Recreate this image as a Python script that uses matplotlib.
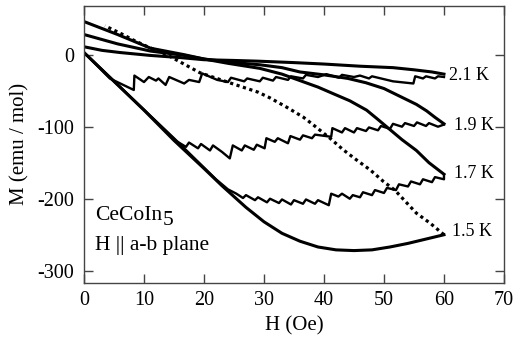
import matplotlib
matplotlib.use("Agg")
import matplotlib.pyplot as plt

plt.rcParams['font.family'] = ['Liberation Serif', 'DejaVu Serif']
plt.rcParams['axes.unicode_minus'] = False

# ---------------- data ----------------
# 1.5 K increasing-field branch (solid)
h15_up = [0, 5, 10, 15, 20, 23, 27, 30, 33, 36, 39, 42, 45, 48, 51, 54, 57, 60]
m15_up = [3, -37, -77, -119, -158, -182, -212, -232, -248, -259, -267, -271, -272, -271, -267, -262, -256, -250]
# 1.5 K decreasing-field branch (dotted)
h15_dn = [60, 57.7, 55.4, 51.8, 49.9, 47.7, 45.4, 43.2, 41, 38.3, 36.6, 33.8, 31, 29, 25, 19.3, 13.8, 10.6, 8.3, 6, 3.5]
m15_dn = [-250, -234, -220, -188, -176, -160, -146, -132, -116, -98, -87, -73, -60, -52, -41, -25, 0, 11, 20, 30, 40]

# 1.7 K increasing (flux jumps) and decreasing (smooth) branches
h17_up = [0, 15, 22, 24, 25.4, 26.5, 27, 28.5, 29, 30.5, 31, 32.5, 33, 34.5, 35, 36.5, 37, 38.5, 39, 40.8,
          41.2, 42.4, 43, 44.3, 44.8, 46, 46.5, 48, 48.5, 50, 50.5, 52, 52.5, 54, 54.5, 56, 56.5, 58, 58.5, 60, 60]
m17_up = [3, -116, -173, -187, -193, -199, -195, -202, -198, -205, -200, -206, -201, -208, -202, -207, -201, -207, -202, -209,
          -193, -197, -193, -200, -195, -198, -191, -195, -188, -192, -185, -188, -180, -183, -176, -180, -173, -177, -170, -173, -167]
h17_dn = [60, 57.5, 55.4, 53, 51, 49, 47.1, 44.3, 41.5, 39, 36, 33, 29.3, 24, 20, 16.7, 11.1, 5.6, 0]
m17_dn = [-166, -150, -133, -118, -104, -90, -77, -64, -54, -45, -36, -27, -19, -12, -6, 0, 9, 28, 46]

# 1.9 K
h19_up = [0, 15.4, 17, 17.5, 19, 19.5, 21, 21.5, 23, 24.3, 24.8, 26.3, 26.8, 28.3, 28.8, 30.1, 30.4, 31.8, 32.3, 34,
          34.4, 36, 36.5, 38, 38.5, 41.2, 41.4, 43, 43.5, 45, 45.5, 47, 47.5, 49, 49.5, 51, 51.5, 53, 53.5, 55,
          55.5, 57, 57.5, 59, 60]
m19_up = [3, -120, -128, -122, -130, -124, -133, -126, -135, -144, -126, -133, -126, -132, -125, -130, -116, -121, -116, -123,
          -113, -118, -112, -116, -111, -114, -102, -108, -102, -108, -102, -106, -101, -105, -99, -103, -96, -100, -95, -99,
          -94, -99, -95, -100, -97]
h19_dn = [60, 58.5, 57.1, 55.4, 52.7, 50, 47, 44, 40, 36, 33, 29.3, 25, 20, 16.7, 11.1, 5.6, 0]
m19_dn = [-96, -87, -78, -69, -58, -47, -39, -33, -28, -24, -18, -14, -11, -6, -1, 5, 15, 28]

# 2.1 K
h21_up = [0, 4.3, 8.3, 8.4, 10, 10.8, 12, 12.4, 13.6, 14.2, 16.7, 17.5, 19.2, 19.7, 22.2, 24, 24.5, 26.7, 27.2, 29.3,
          29.8, 31.5, 32, 34, 34.5, 36.5, 37, 39, 40.4, 42.5, 43, 45, 46, 47.5, 48, 51.5, 54.9, 55.2, 56.5, 57,
          58.5, 59, 60]
m21_up = [3, -33, -49, -29, -38, -31, -36, -33, -42, -31, -40, -35, -38, -26, -35, -38, -32, -37, -33, -37,
          -32, -36, -31, -35, -30, -33, -28, -31, -27, -32, -28, -31, -29, -33, -30, -37, -40, -30, -33, -30,
          -33, -30, -31]
h21_dn = [60, 58, 55, 51.5, 46, 40, 35, 29, 25, 20, 16, 11, 6, 3, 0]
m21_dn = [-27, -24, -21, -18, -16, -13, -11, -9, -8, -7, -4, -1, 3, 6, 11]

temp_labels = ["2.1 K", "1.9 K", "1.7 K", "1.5 K"]
label_h = [60.8, 61.7, 61.7, 61.3]
label_m = [-35.4, -105, -171.5, -252]

x_ticks = [0, 10, 20, 30, 40, 50, 60, 70]
y_ticks = [0, -100, -200, -300]

# ---------------- figure ----------------
fig = plt.figure(figsize=(5.15, 3.46), dpi=100)
ax = fig.add_axes([0.1631, 0.1821, 0.8155, 0.8014])

lw_s = 2.2
lw_j = 1.7
ax.plot(h15_up, m15_up, color='black', lw=lw_s, solid_joinstyle='round')
ax.plot(h15_dn, m15_dn, color='black', lw=2.3, linestyle=(0, (1, 1.1)), dash_capstyle='butt')
for hu, mu, hd, md in [(h17_up, m17_up, h17_dn, m17_dn),
                       (h19_up, m19_up, h19_dn, m19_dn),
                       (h21_up, m21_up, h21_dn, m21_dn)]:
    ax.plot(hu, mu, color='black', lw=lw_j, solid_joinstyle='round')
    ax.plot(hd, md, color='black', lw=lw_s, solid_joinstyle='round')

for t, hx, my in zip(temp_labels, label_h, label_m):
    ax.text(hx, my, t, fontsize=13, ha='left', va='baseline')

t1 = ax.text(1.8, -230, "CeCoIn", fontsize=15.5, ha='left', va='baseline')
ax.annotate("5", xy=(1, 0), xycoords=t1, xytext=(0.5, -3.5), textcoords='offset points',
            fontsize=15.5, ha='left', va='bottom')
ax.text(1.8, -271.5, "H || a-b plane", fontsize=15.5, ha='left', va='baseline')

ax.set_xlim(0, 70)
ax.set_ylim(-317, 68)
ax.set_xticks(x_ticks)
ax.set_yticks(y_ticks)
ax.tick_params(direction='in', length=6.5, width=1, color='#444444',
               top=True, right=True, labelsize=14.5, pad=6)
ax.tick_params(axis='y', pad=7)
for s in ax.spines.values():
    s.set_color('#444444')
    s.set_linewidth(1)

ax.set_xlabel("H (Oe)", fontsize=15, labelpad=4)
ax.set_ylabel("M (emu / mol)", fontsize=15, labelpad=6)

fig.savefig("out.png", dpi=100)
